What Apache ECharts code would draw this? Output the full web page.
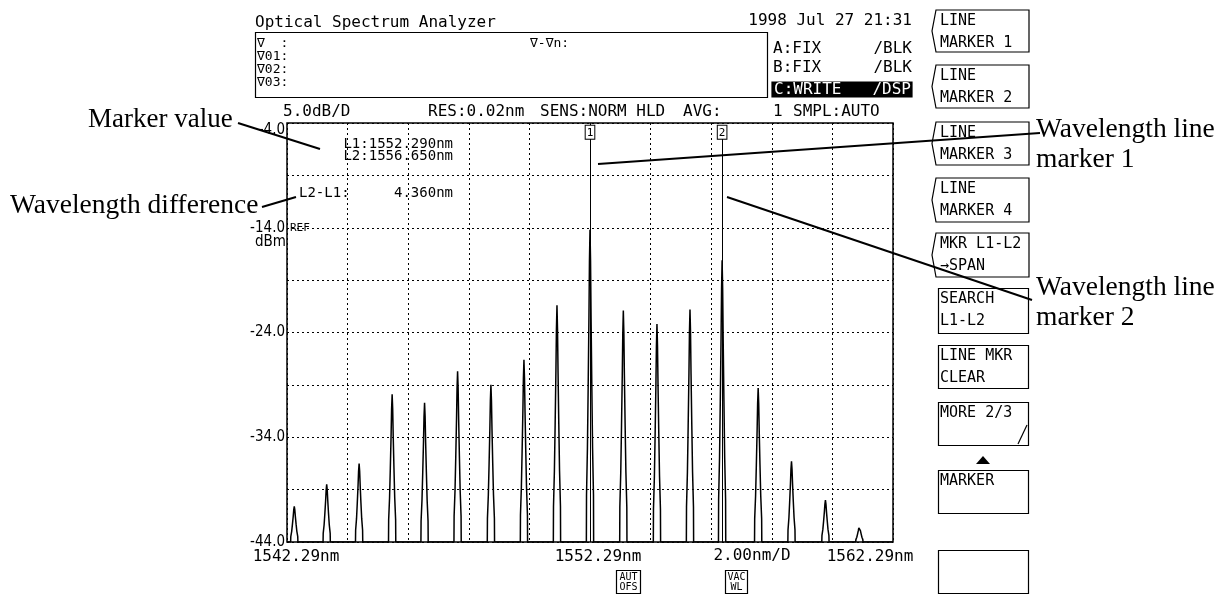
<!DOCTYPE html>
<html>
<head>
<meta charset="utf-8">
<script src="https://cdn.jsdelivr.net/npm/echarts@6/dist/echarts.min.js"></script>
<style>
  html, body { margin: 0; padding: 0; background: #fff; }
  #chart { width: 1228px; height: 595px; }
</style>
</head>
<body>
<div id="chart"></div>
<script>
// span of the screen, in nm
const startWl = 1542.29
const spanNm = 20

// peaks
const peakWl = [1542.53, 1543.60, 1544.67, 1545.76, 1546.83, 1547.92, 1549.02, 1550.11, 1551.20,
  1552.29, 1553.39, 1554.50, 1555.59, 1556.65, 1557.84, 1558.94, 1560.06, 1561.18]
const peakDbm = [-40.6, -38.5, -36.5, -29.9, -30.7, -27.7, -29.0, -26.6, -21.4,
  -14.2, -21.9, -23.2, -21.8, -17.1, -29.3, -36.3, -40.0, -42.5]

// line markers L1, L2
const markerWl = [1552.29, 1556.65]

const yMin = -44
const yMax = -4
const yLabelled = [-44, -34, -24, -14, -4]
const xLabelled = { 0: '1542.29nm', 10: '1552.29nm', 20: '1562.29nm' }

// shape of one spectral line: [nm offset, fraction of height above floor]
const lineShape = [[-0.12, 0], [-0.115, 0.15], [-0.085, 0.3], [-0.06, 0.5], [-0.035, 0.72], [-0.018, 0.9], [0, 1],
  [0.018, 0.9], [0.035, 0.72], [0.06, 0.5], [0.085, 0.3], [0.115, 0.15], [0.12, 0]]

const trace = [[0, yMin]]
peakWl.forEach((wl, i) => {
  const h = peakDbm[i] - yMin
  lineShape.forEach(([dx, f]) => trace.push([wl - startWl + dx, yMin + h * f]))
})
trace.push([spanNm, yMin])

const MONO = '"DejaVu Sans Mono", monospace'
const NARROW = '"Liberation Sans Narrow", "DejaVu Sans Condensed", sans-serif'
const SERIF = '"Liberation Serif", "DejaVu Serif", serif'

function txt(text, x, y, size, opts = {}) {
  return {
    type: 'text', x, y, z: 10,
    style: {
      text, font: size + 'px ' + (opts.family || MONO), fill: opts.fill || '#000',
      textAlign: opts.align || 'left', textVerticalAlign: 'middle'
    }
  }
}
function seg(x1, y1, x2, y2, w = 1.2) {
  return { type: 'line', z: 10, shape: { x1, y1, x2, y2 }, style: { stroke: '#000', lineWidth: w } }
}
function box(x, y, w, h, fill = 'none') {
  return { type: 'rect', z: 9, shape: { x, y, width: w, height: h }, style: { fill, stroke: '#000', lineWidth: 1.2 } }
}

const graphics = []

// header
graphics.push(txt('Optical Spectrum Analyzer', 255, 23, 16))
graphics.push(txt('1998 Jul 27 21:31', 912, 21, 16, { align: 'right' }))
graphics.push(box(255.5, 32.5, 512, 65))
graphics.push(txt('∇  :', 257, 44, 13))
graphics.push(txt('∇01:', 257, 57, 13))
graphics.push(txt('∇02:', 257, 70, 13))
graphics.push(txt('∇03:', 257, 83, 13))
graphics.push(txt('∇-∇n:', 530, 44, 13))
graphics.push(txt('A:FIX', 773, 49, 16))
graphics.push(txt('/BLK', 912, 49, 16, { align: 'right' }))
graphics.push(txt('B:FIX', 773, 68, 16))
graphics.push(txt('/BLK', 912, 68, 16, { align: 'right' }))
graphics.push(box(772, 82, 140, 15, '#000'))
graphics.push(txt('C:WRITE', 774, 90, 16, { fill: '#fff' }))
graphics.push(txt('/DSP', 911, 90, 16, { fill: '#fff', align: 'right' }))
graphics.push(txt('5.0dB/D', 283, 112, 16))
graphics.push(txt('RES:0.02nm', 428, 112, 16))
graphics.push(txt('SENS:NORM HLD', 540, 112, 16))
graphics.push(txt('AVG:', 683, 112, 16))
graphics.push(txt('1', 773, 112, 16))
graphics.push(txt('SMPL:AUTO', 793, 112, 16))

// readouts inside the plot
graphics.push(txt('L1:' + markerWl[0].toFixed(3) + 'nm', 453, 144, 14, { align: 'right' }))
graphics.push(txt('L2:' + markerWl[1].toFixed(3) + 'nm', 453, 156, 14, { align: 'right' }))
graphics.push(txt('L2-L1:', 299, 193, 14))
graphics.push(txt((markerWl[1] - markerWl[0]).toFixed(3) + 'nm', 453, 193, 14, { align: 'right' }))
graphics.push(txt('REF', 290, 228, 11))
graphics.push(txt('dBm', 286, 242, 15, { family: NARROW, align: 'right' }))

// under the x axis
graphics.push(txt('2.00nm/D', 752, 556, 16, { align: 'center' }))
graphics.push(box(616.5, 570.5, 24, 23))
graphics.push(txt('AUT', 628.5, 577, 10, { align: 'center' }))
graphics.push(txt('OFS', 628.5, 587, 10, { align: 'center' }))
graphics.push(box(725.5, 570.5, 22, 23))
graphics.push(txt('VAC', 736.5, 577, 10, { align: 'center' }))
graphics.push(txt('WL', 736.5, 587, 10, { align: 'center' }))

// soft keys
const keys = [
  [10, 52, 'LINE', 'MARKER 1', true],
  [65, 108, 'LINE', 'MARKER 2', true],
  [122, 165, 'LINE', 'MARKER 3', true],
  [178, 222, 'LINE', 'MARKER 4', true],
  [233, 277, 'MKR L1-L2', '→SPAN', true],
  [288, 333, 'SEARCH', 'L1-L2', false],
  [345, 388, 'LINE MKR', 'CLEAR', false],
  [402, 445, 'MORE 2/3', '', false],
  [470, 513, 'MARKER', '', false],
  [550, 593, '', '', false]
]
keys.forEach(([t, b, l1, l2, bracket]) => {
  if (bracket) {
    graphics.push({
      type: 'polygon', z: 9,
      shape: { points: [[936, t], [1029, t], [1029, b], [936, b], [932, (t + b) / 2]] },
      style: { fill: 'none', stroke: '#000', lineWidth: 1.2 }
    })
  } else {
    graphics.push(box(938.5, t + 0.5, 90, b - t))
  }
  graphics.push(txt(l1, 940, t + 11, 15))
  graphics.push(txt(l2, 940, t + 33, 15))
})
graphics.push(seg(1018, 444, 1027, 425))
graphics.push({
  type: 'polygon', z: 9, shape: { points: [[976, 464], [990, 464], [983, 456]] }, style: { fill: '#000' }
})

// annotations
graphics.push(txt('Marker value', 88, 120, 27, { family: SERIF }))
graphics.push(seg(238, 123, 320, 149, 2))
graphics.push(txt('Wavelength difference', 10, 206, 27.5, { family: SERIF }))
graphics.push(seg(262, 207, 296, 197, 2))
graphics.push(txt('Wavelength line', 1036, 130, 27.5, { family: SERIF }))
graphics.push(txt('marker 1', 1036, 160, 27.5, { family: SERIF }))
graphics.push(seg(598, 164, 1040, 133, 2))
graphics.push(txt('Wavelength line', 1036, 288, 27.5, { family: SERIF }))
graphics.push(txt('marker 2', 1036, 318, 27.5, { family: SERIF }))
graphics.push(seg(727, 197, 1032, 300, 2))

const dotted = { color: '#000', width: 1, type: [2, 3] }
const monoLabel = { fontSize: 16, fontFamily: MONO, color: '#000' }
const narrowLabel = { fontSize: 15, fontFamily: NARROW, color: '#000' }

const option = {
  animation: false,
  backgroundColor: '#fff',
  grid: {
    left: 287, top: 123, width: 606, height: 419,
    show: true, borderColor: '#000', borderWidth: 1.5, backgroundColor: 'transparent'
  },
  xAxis: {
    type: 'value',
    min: 0,
    max: spanNm,
    interval: 2,
    axisLine: { show: false },
    axisTick: { show: false },
    splitLine: { show: true, lineStyle: dotted },
    axisLabel: {
      showMinLabel: true,
      showMaxLabel: true,
      margin: 7,
      fontSize: 16,
      fontFamily: MONO,
      color: '#000',
      formatter: v => {
        const t = xLabelled[Math.round(v)]
        if (!t) return ''
        if (v === 0) return '{l|' + t + '}'
        if (v === spanNm) return '{r|' + t + '}'
        return '{c|' + t + '}'
      },
      rich: {
        l: { ...monoLabel, padding: [0, 0, 0, 18] },
        c: { ...monoLabel, padding: [0, 0, 0, 16] },
        r: { ...monoLabel, padding: [0, 46, 0, 0] }
      }
    }
  },
  yAxis: {
    type: 'value',
    min: yMin,
    max: yMax,
    interval: 5,
    axisLine: { show: false },
    axisTick: { show: false },
    splitLine: { show: true, lineStyle: dotted },
    axisLabel: {
      showMinLabel: true,
      showMaxLabel: true,
      margin: 2,
      fontSize: 15,
      fontFamily: NARROW,
      color: '#000',
      formatter: v => {
        const r = Math.round(v)
        if (!yLabelled.includes(r)) return ''
        return (r === yMax ? '{t|' : '{n|') + r.toFixed(1) + '}'
      },
      rich: {
        t: { ...narrowLabel, padding: [14, 0, 0, 0] },
        n: { ...narrowLabel }
      }
    }
  },
  series: [
    {
      type: 'line',
      data: trace,
      symbol: 'none',
      lineStyle: { color: '#000', width: 1.5 },
      silent: true,
      markLine: {
        silent: true,
        symbol: 'none',
        lineStyle: { color: '#000', width: 1, type: 'solid' },
        label: {
          show: true,
          position: 'end',
          distance: 0,
          color: '#000',
          fontFamily: MONO,
          fontSize: 11,
          lineHeight: 12,
          padding: [1, 1, 0, 1],
          borderColor: '#000',
          borderWidth: 1,
          backgroundColor: '#fff',
          formatter: p => String(p.dataIndex + 1)
        },
        data: markerWl.map(wl => [
          { coord: [wl - startWl, yMin] },
          { coord: [wl - startWl, -5.5] }
        ])
      }
    }
  ],
  graphic: graphics
}

const chart = echarts.init(document.getElementById('chart'))
chart.setOption(option)
</script>
</body>
</html>
